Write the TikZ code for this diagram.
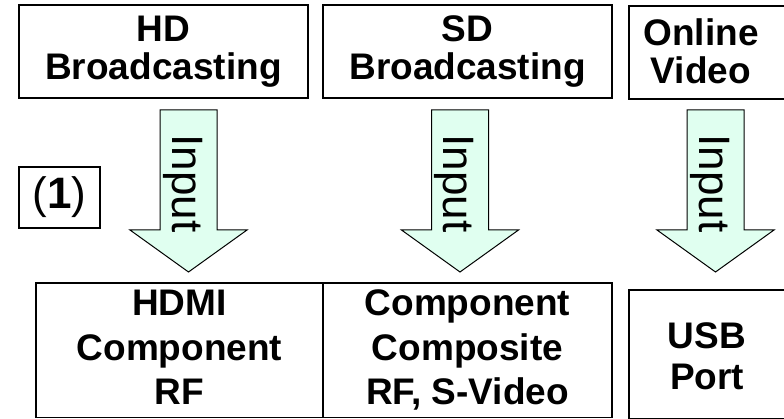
\documentclass[tikz,border=0pt]{standalone}
\usepackage{fontspec}
\setmainfont{Liberation Sans}
\definecolor{mint}{RGB}{224,255,240}
\begin{document}
\begin{tikzpicture}[x=1pt,y=-1pt,
  box/.style={draw=black, line width=1.6pt, inner sep=0pt},
  lbl/.style={font=\bfseries\fontsize{37}{38}\selectfont, align=center, inner sep=0pt},
  lblb/.style={font=\bfseries\fontsize{37}{44.5}\selectfont, align=center, inner sep=0pt},
  inarrow/.style={draw=black, line width=1pt, fill=mint},
  intext/.style={font=\fontsize{44}{44}\selectfont, rotate=-90, anchor=base, inner sep=0pt},
  blockarrow/.pic={
    \draw[inarrow] (-28.5,0) -- (28.5,0) -- (28.5,120) -- (58.5,120) -- (0,162)
      -- (-58.5,120) -- (-28.5,120) -- cycle;
    \node[intext] (-txt) at (-16.5,73.5) {Input};
  }
]
\useasboundingbox (0,0) rectangle (784,419);
\clip (0,0) rectangle (784,419);
\fill[white] (0,0) rectangle (784,419);

% top boxes
\node[box, minimum width=289pt, minimum height=93pt, lbl] (hd) at (163.5,51.5) {HD\\Broadcasting};
\node[box, minimum width=289pt, minimum height=93pt, lbl] (sd) at (467.5,51.5) {SD\\Broadcasting};
\node[box, minimum width=172pt, minimum height=93pt, anchor=north west] (ov) at (628,5) {};
\node[lbl] (ovt) at (701,51.5) {Online\\Video};

% arrows
\pic (a1) at (188.5,110) {blockarrow};
\pic (a2) at (460,110) {blockarrow};
\pic (a3) at (715.5,110) {blockarrow};

% (1) label
\node[box, minimum width=81pt, minimum height=61pt, font=\fontsize{44}{44}\selectfont] (num) at (59.5,197.5) {(\textbf{1})};

% bottom boxes
\node[box, minimum width=287pt, minimum height=134.5pt, lblb] (hdmi) at (179.5,350.25) {HDMI\\Component\\RF\vphantom{,}};
\node[box, minimum width=289pt, minimum height=134.5pt, lblb] (comp) at (467.5,350.25) {Component\\Composite\\RF, S-Video};
\node[box, minimum width=172pt, minimum height=128pt, anchor=north west] (usb) at (628,289.5) {};
\node[font=\bfseries\fontsize{37}{41}\selectfont, align=center, inner sep=0pt] (usbt) at (707,356) {USB\\Port};
\end{tikzpicture}
\end{document}
